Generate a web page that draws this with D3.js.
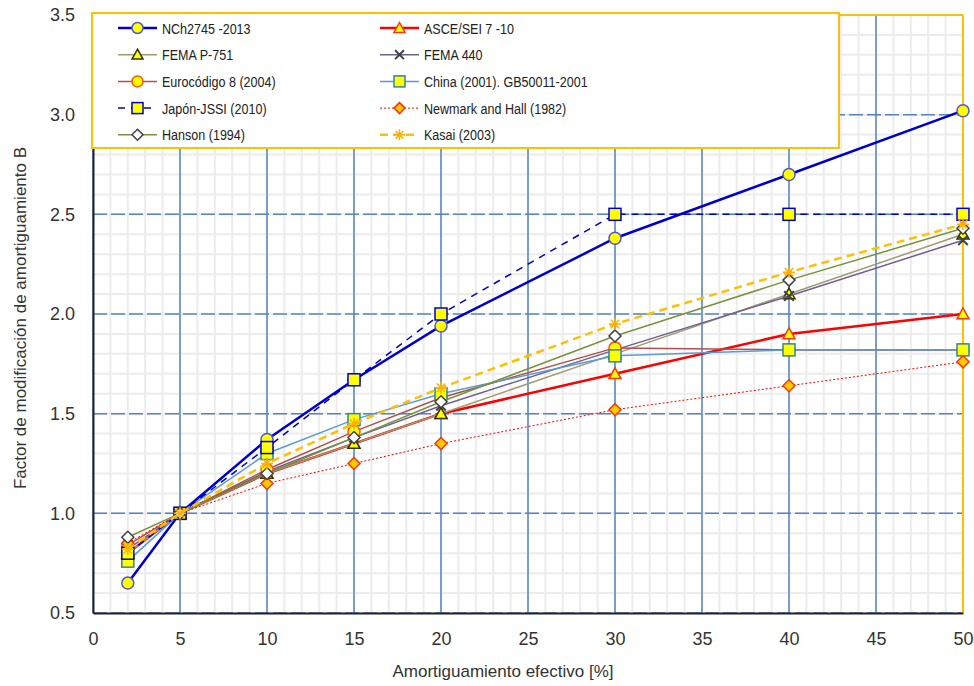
<!DOCTYPE html>
<html>
<head>
<meta charset="utf-8">
<script src="https://cdn.jsdelivr.net/npm/d3@7"></script>
<style>
  body { margin: 0; background: #fff; }
  svg text { font-family: "Liberation Sans", Arial, sans-serif; fill: #333; }
  .leg text { font-size: 15.5px; fill: #222; }
</style>
</head>
<body>
<div id="chart"></div>
<script>
// amortiguamiento efectivo [%]
var damping = [2, 5, 10, 15, 20, 30, 40, 50];

var nch2745  = [0.65, 1.00, 1.37, 1.67, 1.94, 2.38, 2.70, 3.02];
var asce710  = [0.80, 1.00, 1.20, 1.35, 1.50, 1.70, 1.90, 2.00];
var femaP751 = [0.80, 1.00, 1.20, 1.35, 1.50, 1.80, 2.10, 2.40];
var fema440  = [0.82, 1.00, 1.21, 1.38, 1.54, 1.82, 2.09, 2.37];
var eurocode = [0.84, 1.00, 1.22, 1.41, 1.58, 1.83, 1.82, 1.82];
var china    = [0.76, 1.00, 1.30, 1.47, 1.60, 1.79, 1.82, 1.82];
var jssi     = [0.80, 1.00, 1.33, 1.67, 2.00, 2.50, 2.50, 2.50];
var newmark  = [0.85, 1.00, 1.15, 1.25, 1.35, 1.52, 1.64, 1.76];
var hanson   = [0.88, 1.00, 1.20, 1.38, 1.56, 1.89, 2.17, 2.43];
var kasai    = [0.82, 1.00, 1.25, 1.45, 1.63, 1.95, 2.21, 2.45];

var xTicks = [0, 5, 10, 15, 20, 25, 30, 35, 40, 45, 50];
var yTicks = [0.5, 1.0, 1.5, 2.0, 2.5, 3.0, 3.5];

var series = [
  {name: "NCh2745 -2013", v: nch2745, color: "#0000cc", w: 2.5, dash: null, mk: "circle", fill: "#ffff00", ms: "#5555cc"},
  {name: "ASCE/SEI 7 -10", v: asce710, color: "#ff0000", w: 2.5, dash: null, mk: "triangle", fill: "#ffff00", ms: "#ff3300"},
  {name: "FEMA P-751", v: femaP751, color: "#a09c70", w: 1.5, dash: null, mk: "triangle", fill: "#ffff00", ms: "#333300"},
  {name: "FEMA 440", v: fema440, color: "#6f5f95", w: 1.5, dash: null, mk: "cross", fill: "none", ms: "#404040"},
  {name: "Eurocódigo 8 (2004)", v: eurocode, color: "#b0504a", w: 1.5, dash: null, mk: "circle", fill: "#ffff00", ms: "#ff5500"},
  {name: "China (2001). GB50011-2001", v: china, color: "#5b9bd5", w: 1.5, dash: null, mk: "square", fill: "#ffff00", ms: "#31859c"},
  {name: "Japón-JSSI (2010)", v: jssi, color: "#0000cc", w: 1.5, dash: "7,6", mk: "square", fill: "#ffff00", ms: "#0000cc"},
  {name: "Newmark and Hall (1982)", v: newmark, color: "#ff0000", w: 1, dash: "2,2", mk: "diamond", fill: "#ffcc00", ms: "#ff3300"},
  {name: "Hanson (1994)", v: hanson, color: "#77933c", w: 1.5, dash: null, mk: "diamond", fill: "#ffffff", ms: "#404040"},
  {name: "Kasai (2003)", v: kasai, color: "#ffc000", w: 2.5, dash: "8,5", mk: "asterisk", fill: "none", ms: "#ffb000"}
];

var width = 974, height = 686;
var margin = {top: 15, right: 11, bottom: 73, left: 93};

var svg = d3.select("#chart").append("svg")
  .attr("width", width)
  .attr("height", height);

var x = d3.scaleLinear().domain([0, 50]).range([margin.left, width - margin.right]);
var y = d3.scaleLinear().domain([0.5, 3.5]).range([height - margin.bottom, margin.top]);

// minor grid
var grid = svg.append("g");
grid.selectAll(".mx").data(d3.range(0, 51, 1)).enter().append("line")
  .attr("x1", d => x(d)).attr("x2", d => x(d))
  .attr("y1", y(0.5)).attr("y2", y(3.5))
  .attr("stroke", "#ececec").attr("stroke-width", 2);
grid.selectAll(".my").data(d3.range(5, 36, 1).map(d => d / 10)).enter().append("line")
  .attr("x1", x(0)).attr("x2", x(50))
  .attr("y1", d => y(d)).attr("y2", d => y(d))
  .attr("stroke", "#ececec").attr("stroke-width", 2);

// major grid
grid.selectAll(".Mx").data(xTicks).enter().append("line")
  .attr("x1", d => x(d)).attr("x2", d => x(d))
  .attr("y1", y(0.5)).attr("y2", y(3.5))
  .attr("stroke", "#5584c0").attr("stroke-width", 1.5);
grid.selectAll(".My").data(yTicks).enter().append("line")
  .attr("x1", x(0)).attr("x2", x(50))
  .attr("y1", d => y(d)).attr("y2", d => y(d))
  .attr("stroke", "#5584c0").attr("stroke-width", 1.5)
  .attr("stroke-dasharray", "14,4");

// frame: orange top / right, black left / bottom
svg.append("line").attr("x1", x(0)).attr("x2", x(50)).attr("y1", y(3.5)).attr("y2", y(3.5))
  .attr("stroke", "#ffc000").attr("stroke-width", 2);
svg.append("line").attr("x1", x(50)).attr("x2", x(50)).attr("y1", y(3.5)).attr("y2", y(0.5))
  .attr("stroke", "#ffc000").attr("stroke-width", 2);

// axes
var xAxis = svg.append("g")
  .attr("transform", "translate(0," + y(0.5) + ")")
  .call(d3.axisBottom(x).tickValues(xTicks).tickSize(0).tickPadding(19).tickFormat(d3.format("d")));
var yAxis = svg.append("g")
  .attr("transform", "translate(" + x(0) + ",0)")
  .call(d3.axisLeft(y).tickValues(yTicks).tickSize(0).tickPadding(18).tickFormat(d3.format(".1f")));
[xAxis, yAxis].forEach(function (a) {
  a.select(".domain").attr("stroke", "#222").attr("stroke-width", 2);
  a.selectAll("text").style("font-size", "18px").attr("fill", "#333");
});

svg.append("text")
  .attr("x", 503).attr("y", 677)
  .attr("text-anchor", "middle").style("font-size", "17px")
  .text("Amortiguamiento efectivo [%]");
svg.append("text")
  .attr("transform", "translate(26,318) rotate(-90)")
  .attr("text-anchor", "middle").style("font-size", "17px")
  .text("Factor de modificación de amortiguamiento B");

// markers
function marker(sel, s, r) {
  if (s.mk === "circle") {
    sel.append("circle").attr("r", r).attr("fill", s.fill).attr("stroke", s.ms).attr("stroke-width", 1.5);
  } else if (s.mk === "square") {
    sel.append("rect").attr("x", -r).attr("y", -r).attr("width", 2 * r).attr("height", 2 * r)
      .attr("fill", s.fill).attr("stroke", s.ms).attr("stroke-width", 1.5);
  } else if (s.mk === "triangle") {
    sel.append("path").attr("d", "M0," + (-r) + "L" + r + "," + (r * 0.8) + "L" + (-r) + "," + (r * 0.8) + "Z")
      .attr("fill", s.fill).attr("stroke", s.ms).attr("stroke-width", 1.5);
  } else if (s.mk === "diamond") {
    sel.append("path").attr("d", "M0," + (-r) + "L" + r + ",0L0," + r + "L" + (-r) + ",0Z")
      .attr("fill", s.fill).attr("stroke", s.ms).attr("stroke-width", 1.5);
  } else if (s.mk === "cross") {
    var c = r * 0.8;
    sel.append("path").attr("d", "M" + (-c) + "," + (-c) + "L" + c + "," + c + "M" + (-c) + "," + c + "L" + c + "," + (-c))
      .attr("stroke", s.ms).attr("stroke-width", 2);
  } else if (s.mk === "asterisk") {
    var a = r, b = r * 0.7;
    sel.append("path").attr("d", "M0," + (-a) + "L0," + a + "M" + (-a) + ",0L" + a + ",0M" + (-b) + "," + (-b) + "L" + b + "," + b + "M" + (-b) + "," + b + "L" + b + "," + (-b))
      .attr("stroke", s.ms).attr("stroke-width", 1.5);
  }
}

var line = d3.line().x(d => x(d[0])).y(d => y(d[1]));

series.forEach(function (s) {
  var pts = damping.map((d, i) => [d, s.v[i]]);
  var g = svg.append("g");
  g.append("path").datum(pts)
    .attr("d", line)
    .attr("fill", "none")
    .attr("stroke", s.color)
    .attr("stroke-width", s.w)
    .attr("stroke-dasharray", s.dash);
  g.selectAll(".pt").data(pts).enter().append("g")
    .attr("transform", d => "translate(" + x(d[0]) + "," + y(d[1]) + ")")
    .each(function () { marker(d3.select(this), s, 6); });
});

// legend
var leg = svg.append("g").attr("class", "leg");
leg.append("rect").attr("x", 92).attr("y", 13).attr("width", 747).attr("height", 135)
  .attr("fill", "#fff").attr("stroke", "#ffc000").attr("stroke-width", 2);
series.forEach(function (s, i) {
  var col = i % 2, row = Math.floor(i / 2);
  var lx = col === 0 ? 118 : 380;
  var ly = 28 + row * 26.7;
  var item = leg.append("g");
  item.append("line").attr("x1", lx).attr("x2", lx + 39).attr("y1", ly).attr("y2", ly)
    .attr("stroke", s.color).attr("stroke-width", s.w).attr("stroke-dasharray", s.dash);
  var m = item.append("g").attr("transform", "translate(" + (lx + 19.5) + "," + ly + ")");
  marker(m, s, 5.5);
  // narrow lettering, as in the original legend
  item.append("text")
    .attr("transform", "translate(" + (lx + 44) + "," + (ly + 5.5) + ") scale(0.81,1)")
    .text(s.name);
});
</script>
</body>
</html>
